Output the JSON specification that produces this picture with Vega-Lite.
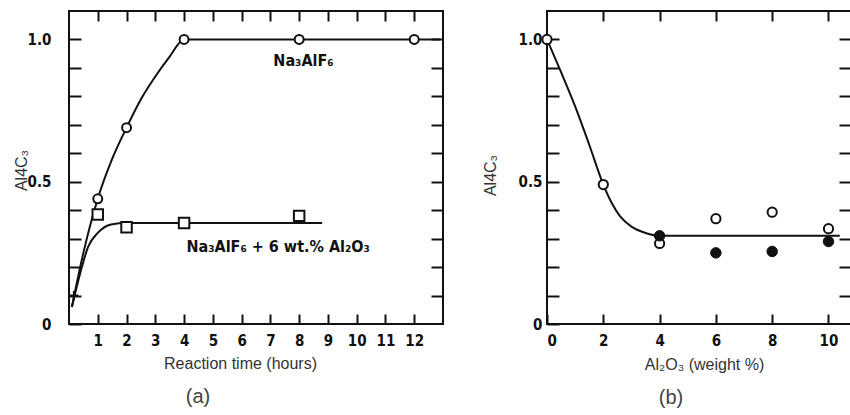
{
  "$schema": "https://vega.github.io/schema/vega-lite/v6.json",
  "autosize": {"type": "pad"},
  "padding": {"left": 12, "top": 9, "right": 0, "bottom": 0},
  "background": "white",
  "config": {
    "view": {"stroke": "#111111", "strokeWidth": 2},
    "axis": {
      "domain": false,
      "grid": false,
      "tickColor": "#111111",
      "tickWidth": 2,
      "labelFont": "DejaVu Sans Condensed, DejaVu Sans, sans-serif",
      "labelFontWeight": "bold",
      "labelFontSize": 15,
      "labelColor": "#111111",
      "titleFont": "Liberation Sans",
      "titleFontWeight": "normal",
      "titleFontSize": 16,
      "titleColor": "#333333"
    },
    "title": {"font": "Liberation Sans", "fontWeight": "normal", "fontSize": 20, "color": "#444444"}
  },
  "datasets": {
    "curveA": [
      {"t": 0.1, "v": 0.06, "s": "Na3AlF6"},
      {"t": 0.5, "v": 0.25, "s": "Na3AlF6"},
      {"t": 1, "v": 0.44, "s": "Na3AlF6"},
      {"t": 1.5, "v": 0.58, "s": "Na3AlF6"},
      {"t": 2, "v": 0.69, "s": "Na3AlF6"},
      {"t": 2.5, "v": 0.79, "s": "Na3AlF6"},
      {"t": 3, "v": 0.87, "s": "Na3AlF6"},
      {"t": 3.5, "v": 0.94, "s": "Na3AlF6"},
      {"t": 4, "v": 1.0, "s": "Na3AlF6"},
      {"t": 12.9, "v": 1.0, "s": "Na3AlF6"},
      {"t": 0.1, "v": 0.06, "s": "Na3AlF6 + Al2O3"},
      {"t": 0.42, "v": 0.19, "s": "Na3AlF6 + Al2O3"},
      {"t": 0.66, "v": 0.27, "s": "Na3AlF6 + Al2O3"},
      {"t": 1.0, "v": 0.32, "s": "Na3AlF6 + Al2O3"},
      {"t": 1.46, "v": 0.35, "s": "Na3AlF6 + Al2O3"},
      {"t": 2, "v": 0.355, "s": "Na3AlF6 + Al2O3"},
      {"t": 8.8, "v": 0.355, "s": "Na3AlF6 + Al2O3"}
    ],
    "circA": [
      {"t": 1, "v": 0.44},
      {"t": 2, "v": 0.69},
      {"t": 4, "v": 1.0},
      {"t": 8, "v": 1.0},
      {"t": 12, "v": 1.0}
    ],
    "sqA": [
      {"t": 1, "v": 0.385},
      {"t": 2, "v": 0.34},
      {"t": 4, "v": 0.355},
      {"t": 8, "v": 0.38}
    ],
    "startA": [{"t": 0.17, "v": 0.1}],
    "labA": [
      {"t": 8.15, "v": 0.925, "label": "Na₃AlF₆"},
      {"t": 7.27, "v": 0.272, "label": "Na₃AlF₆ + 6 wt.%  Al₂O₃"}
    ],
    "curveB": [
      {"w": 0, "v": 1.0},
      {"w": 0.5, "v": 0.885},
      {"w": 1, "v": 0.765},
      {"w": 1.5, "v": 0.63},
      {"w": 2, "v": 0.49},
      {"w": 2.3, "v": 0.425},
      {"w": 2.6, "v": 0.378},
      {"w": 3.0, "v": 0.342},
      {"w": 3.5, "v": 0.32},
      {"w": 4, "v": 0.31},
      {"w": 10.4, "v": 0.31}
    ],
    "openB": [
      {"w": 0, "v": 1.0},
      {"w": 2, "v": 0.49},
      {"w": 4, "v": 0.283},
      {"w": 6, "v": 0.37},
      {"w": 8, "v": 0.393},
      {"w": 10, "v": 0.335}
    ],
    "fillB": [
      {"w": 4, "v": 0.31},
      {"w": 6, "v": 0.25},
      {"w": 8, "v": 0.255},
      {"w": 10, "v": 0.29}
    ]
  },
  "hconcat": [
    {
      "width": 374,
      "height": 313,
      "title": {"text": "(a)", "orient": "bottom", "anchor": "middle", "dx": -58, "offset": 16},
      "resolve": {"axis": {"x": "independent", "y": "independent"}},
      "layer": [
        {
          "data": {"name": "curveA"},
          "mark": {"type": "line", "interpolate": "monotone", "color": "#111111", "strokeWidth": 2},
          "encoding": {
            "x": {
              "field": "t", "type": "quantitative",
              "scale": {"domain": [0, 13], "nice": false, "zero": false},
              "axis": {
                "orient": "bottom",
                "values": [1, 2, 3, 4, 5, 6, 7, 8, 9, 10, 11, 12],
                "tickSize": -10,
                "labelPadding": 19,
                "title": "Reaction time (hours)",
                "titleX": 171,
                "titleY": 39,
                "titleBaseline": "middle"
              }
            },
            "y": {
              "field": "v", "type": "quantitative",
              "scale": {"domain": [0, 1.1], "nice": false},
              "axis": {
                "orient": "left",
                "values": [0, 0.1, 0.2, 0.3, 0.4, 0.5, 0.6, 0.7, 0.8, 0.9, 1.0],
                "labelExpr": "datum.value < 0.01 ? '0' : (abs(datum.value - 0.5) < 0.01 ? '0.5' : (abs(datum.value - 1) < 0.01 ? '1.0' : ''))",
                "tickSize": -12,
                "labelPadding": 30,
                "title": "Al4C₃",
                "titleX": -48,
                "titleY": 159,
                "titleBaseline": "middle",
                "titleAlign": "center"
              }
            },
            "detail": {"field": "s"}
          }
        },
        {
          "data": {"name": "circA"},
          "mark": {"type": "point", "shape": "circle", "filled": true, "fill": "white", "stroke": "#111111", "strokeWidth": 2, "size": 80, "opacity": 1},
          "encoding": {
            "x": {
              "field": "t", "type": "quantitative",
              "axis": {"orient": "top", "values": [1, 2, 3, 4, 5, 6, 7, 8, 9, 10, 11, 12], "tickSize": -10, "labels": false, "title": null}
            },
            "y": {
              "field": "v", "type": "quantitative",
              "axis": {"orient": "right", "values": [0.1, 0.2, 0.3, 0.4, 0.5, 0.6, 0.7, 0.8, 0.9, 1.0], "tickSize": -12, "labels": false, "title": null}
            }
          }
        },
        {
          "data": {"name": "sqA"},
          "mark": {"type": "point", "shape": "square", "filled": true, "fill": "white", "stroke": "#111111", "strokeWidth": 2, "size": 110, "opacity": 1},
          "encoding": {
            "x": {"field": "t", "type": "quantitative", "axis": null},
            "y": {"field": "v", "type": "quantitative", "axis": null}
          }
        },
        {
          "data": {"name": "startA"},
          "mark": {"type": "point", "shape": "M-1,0H1M0,-1V1", "filled": false, "stroke": "#111111", "strokeWidth": 2, "size": 80, "opacity": 1},
          "encoding": {
            "x": {"field": "t", "type": "quantitative", "axis": null},
            "y": {"field": "v", "type": "quantitative", "axis": null}
          }
        },
        {
          "data": {"name": "labA"},
          "mark": {"type": "text", "font": "DejaVu Sans Condensed, DejaVu Sans, sans-serif", "fontWeight": "bold", "fontSize": 16, "color": "#111111", "align": "center", "baseline": "middle"},
          "encoding": {
            "x": {"field": "t", "type": "quantitative", "axis": null},
            "y": {"field": "v", "type": "quantitative", "axis": null},
            "text": {"field": "label"}
          }
        }
      ]
    },
    {
      "width": 304,
      "height": 313,
      "title": {"text": "(b)", "orient": "bottom", "anchor": "middle", "dx": -28, "offset": 16},
      "resolve": {"axis": {"x": "independent", "y": "independent"}},
      "layer": [
        {
          "data": {"name": "curveB"},
          "mark": {"type": "line", "interpolate": "monotone", "color": "#111111", "strokeWidth": 2},
          "encoding": {
            "x": {
              "field": "w", "type": "quantitative",
              "scale": {"domain": [0, 10.8], "nice": false, "zero": false},
              "axis": {
                "orient": "bottom",
                "values": [0, 2, 4, 6, 8, 10],
                "tickSize": -10,
                "labelPadding": 19,
                "title": "Al₂O₃ (weight %)",
                "titleX": 157,
                "titleY": 40,
                "titleBaseline": "middle"
              }
            },
            "y": {
              "field": "v", "type": "quantitative",
              "scale": {"domain": [0, 1.1], "nice": false},
              "axis": {
                "orient": "left",
                "values": [0, 0.1, 0.2, 0.3, 0.4, 0.5, 0.6, 0.7, 0.8, 0.9, 1.0],
                "labelExpr": "datum.value < 0.01 ? '0' : (abs(datum.value - 0.5) < 0.01 ? '0.5' : (abs(datum.value - 1) < 0.01 ? '1.0' : ''))",
                "tickSize": -12,
                "labelPadding": 17,
                "title": "Al4C₃",
                "titleX": -57,
                "titleY": 164,
                "titleBaseline": "middle",
                "titleAlign": "center"
              }
            }
          }
        },
        {
          "data": {"name": "openB"},
          "mark": {"type": "point", "shape": "circle", "filled": true, "fill": "white", "stroke": "#111111", "strokeWidth": 2, "size": 85, "opacity": 1},
          "encoding": {
            "x": {
              "field": "w", "type": "quantitative",
              "axis": {"orient": "top", "values": [2, 4, 6, 8, 10], "tickSize": -10, "labels": false, "title": null}
            },
            "y": {
              "field": "v", "type": "quantitative",
              "axis": {"orient": "right", "values": [0.1, 0.2, 0.3, 0.4, 0.5, 0.6, 0.7, 0.8, 0.9, 1.0], "tickSize": -12, "labels": false, "title": null}
            }
          }
        },
        {
          "data": {"name": "fillB"},
          "mark": {"type": "point", "shape": "circle", "filled": true, "fill": "#111111", "stroke": "#111111", "strokeWidth": 1, "size": 110, "opacity": 1},
          "encoding": {
            "x": {"field": "w", "type": "quantitative", "axis": null},
            "y": {"field": "v", "type": "quantitative", "axis": null}
          }
        }
      ]
    }
  ],
  "bounds": "flush",
  "spacing": 104
}
